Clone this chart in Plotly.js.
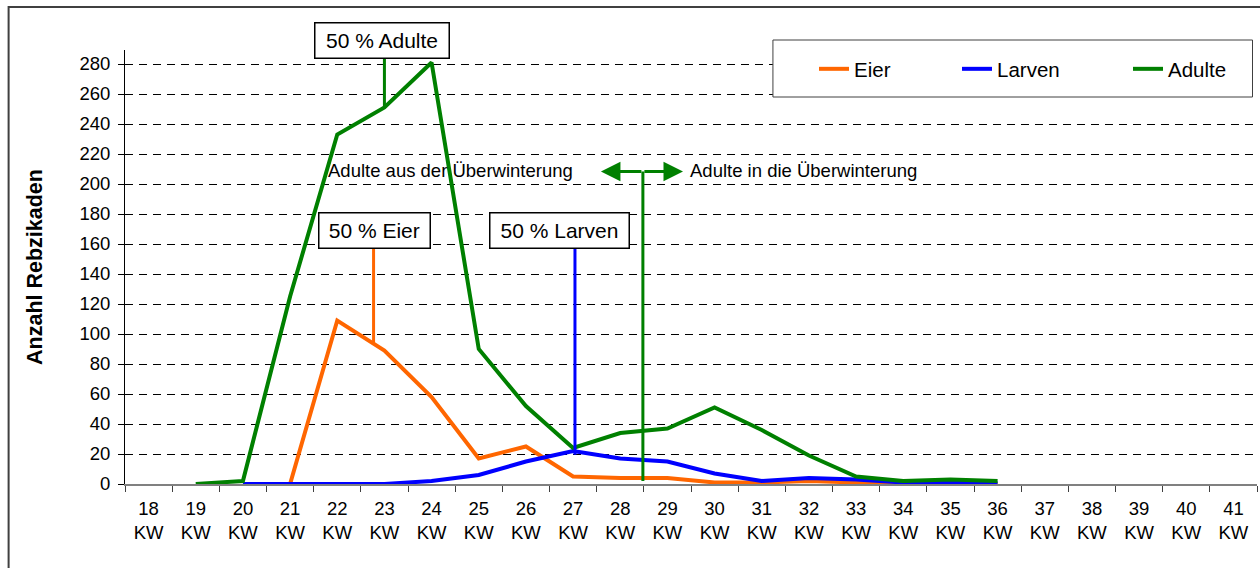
<!DOCTYPE html>
<html>
<head>
<meta charset="utf-8">
<script src="https://cdn.plot.ly/plotly-3.0.1.min.js"></script>
<style>html,body{margin:0;padding:0;background:#fff;}#chart{width:1260px;height:568px;}</style>
</head>
<body>
<div id="chart"></div>
<script>
// ---- data ----
const weeks = ['18','19','20','21','22','23','24','25','26','27','28','29','30','31','32','33','34','35','36','37','38','39','40','41'];
const categories = weeks.map(w => w + ' KW');
const tickLabels = weeks.map(w => w + '<br>KW');
const eier   = [null,null,null,0,109,89,58,17,25,5,4,4,1,1,2,1,0,0,0,null,null,null,null,null];
const larven = [null,null,0,0,0,0,2,6,15,22,17,15,7,2,4,3,1,0.5,0.5,null,null,null,null,null];
const adulte = [null,0,2,125,233,251,281,90,52,24,34,37,51,36,19,5,2,3,2,null,null,null,null,null];
const seriesNames = ['Eier','Larven','Adulte'];
const seriesColors = ['#FF6600','#0000FF','#008000'];
const yTitle = 'Anzahl Rebzikaden';

const FONT = 'Liberation Sans, Arial, sans-serif';
const L = 124.5, R = 1257.5, T = 50, B = 484;
const px2paperX = x => (x - L) / (R - L);
const px2paperY = y => (B - y) / (B - T);

const allSeries = [eier, larven, adulte];
const legendWidths = [98, 126, 84];
const traces = allSeries.map((vals, i) => ({
  type: 'scatter', mode: 'lines', x: categories, y: vals, name: seriesNames[i],
  line: {color: seriesColors[i], width: 4}, connectgaps: false,
  legendwidth: legendWidths[i], hoverinfo: 'skip'
}));

const green = '#008000';
const shapes = [
  // outer frame
  {type:'rect', xref:'paper', yref:'paper', x0:px2paperX(8), x1:px2paperX(1264), y0:px2paperY(572), y1:px2paperY(7),
   line:{color:'#404040', width:2}, fillcolor:'rgba(0,0,0,0)', layer:'above'},
  // legend box
  {type:'rect', xref:'paper', yref:'paper', x0:px2paperX(773), x1:px2paperX(1253), y0:px2paperY(97), y1:px2paperY(40),
   line:{color:'#404040', width:1}, fillcolor:'#ffffff', layer:'above'},
  // 50% Adulte marker line
  {type:'line', xref:'x', yref:'y', x0:5, x1:5, y0:250.5, y1:287, line:{color:green, width:3}, layer:'above'},
  // 50% Eier marker line
  {type:'line', xref:'x', yref:'y', x0:4.77, x1:4.77, y0:93, y1:160, line:{color:'#FF6600', width:3}, layer:'above'},
  // 50% Larven marker line
  {type:'line', xref:'x', yref:'y', x0:9.04, x1:9.04, y0:19.5, y1:160, line:{color:'#0000FF', width:3}, layer:'above'},
  // Überwinterung divider
  {type:'line', xref:'x', yref:'y', x0:10.48, x1:10.48, y0:2, y1:208.3, line:{color:green, width:3}, layer:'above'}
];

const boxFont = {family: FONT, size: 21, color: '#000'};
const textFont = {family: FONT, size: 18.5, color: '#000'};
const annotations = [
  {xref:'x', yref:'paper', x:4.944, y:px2paperY(40.7), xanchor:'center', yanchor:'middle', text:'50 % Adulte', showarrow:false, font:boxFont,
   bgcolor:'#fff', bordercolor:'#000', borderwidth:1.5, borderpad:1, width:131, height:32},
  {xref:'x', yref:'y', x:4.796, y:169.1, xanchor:'center', yanchor:'middle', text:'50 % Eier', showarrow:false, font:boxFont,
   bgcolor:'#fff', bordercolor:'#000', borderwidth:1.5, borderpad:1, width:107.5, height:32},
  {xref:'x', yref:'y', x:8.719, y:169.1, xanchor:'center', yanchor:'middle', text:'50 % Larven', showarrow:false, font:boxFont,
   bgcolor:'#fff', bordercolor:'#000', borderwidth:1.5, borderpad:1, width:136, height:32},
  {xref:'x', yref:'y', x:3.76, y:209.3, xanchor:'left', yanchor:'middle', text:'Adulte aus der Überwinterung', showarrow:false, font:textFont},
  {xref:'x', yref:'y', x:11.44, y:208.7, xanchor:'left', yanchor:'middle', text:'Adulte in die Überwinterung', showarrow:false, font:textFont},
  // double arrow
  {xref:'x', yref:'y', axref:'x', ayref:'y', x:9.59, y:208.3, ax:10.48, ay:208.3, text:'', showarrow:true,
   arrowhead:2, arrowsize:1.3, arrowwidth:3, arrowcolor:green, standoff:0},
  {xref:'x', yref:'y', axref:'x', ayref:'y', x:11.33, y:208.3, ax:10.48, ay:208.3, text:'', showarrow:true,
   arrowhead:2, arrowsize:1.3, arrowwidth:3, arrowcolor:green, standoff:0}
];

const layout = {
  width: 1260, height: 568,
  margin: {l: L, r: 1260 - R, t: T, b: 568 - B, pad: 0},
  paper_bgcolor: '#fff', plot_bgcolor: '#fff',
  font: {family: FONT, size: 18.5, color: '#000'},
  showlegend: true,
  legend: {orientation:'h', x: 1, xanchor:'right', y: px2paperY(69), yanchor:'middle',
           bgcolor:'rgba(0,0,0,0)', borderwidth:0, font:{family: FONT, size: 20.5, color:'#000'},
           traceorder:'normal'},
  xaxis: {
    type:'category', categoryorder:'array', categoryarray: categories,
    tickmode:'array', tickvals: categories, ticktext: tickLabels,
    range:[-0.5, categories.length - 0.5], fixedrange:true,
    showline:true, linecolor:'#808080', linewidth:1.5,
    ticks:'outside', tickson:'boundaries', ticklen:6, tickcolor:'#404040', tickwidth:1,
    ticklabelstandoff:7,
    showgrid:false, zeroline:false, automargin:false,
    tickfont:{family: FONT, size: 18.5, color:'#000'}
  },
  yaxis: {
    range:[0, 289.33], tickmode:'linear', tick0:0, dtick:20, fixedrange:true,
    showline:true, linecolor:'#000', linewidth:1,
    ticks:'outside', ticklen:6, tickcolor:'#000', tickwidth:1, ticklabelstandoff:4,
    showgrid:true, gridcolor:'#000', gridwidth:1, griddash:'8px,6px',
    zeroline:false, automargin:false,
    tickfont:{family: FONT, size: 18.5, color:'#000'},
    title:{text: yTitle, font:{family: FONT, size: 21.5, color:'#000', weight:'bold'}, standoff: 30}
  },
  shapes: shapes,
  annotations: annotations
};

Plotly.newPlot('chart', traces, layout, {staticPlot: true, displayModeBar: false});
</script>
</body>
</html>
